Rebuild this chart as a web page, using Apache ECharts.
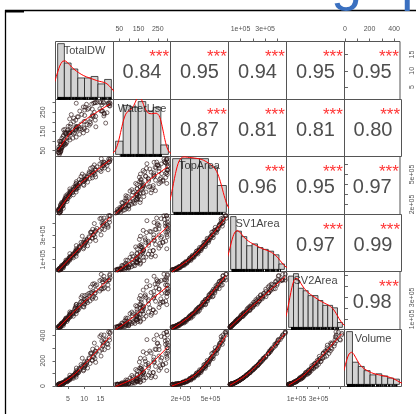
<!DOCTYPE html>
<html><head><meta charset="utf-8">
<script src="https://cdn.jsdelivr.net/npm/echarts@6/dist/echarts.min.js"></script>
<style>html,body{margin:0;padding:0;background:#fff}#c{width:416px;height:414px}</style>
</head><body><div id="c"></div>
<script>
const varNames = ['TotalDW','WaterUse','TopArea','SV1Area','SV2Area','Volume'];

const TotalDW = [2.30,2.03,2.51,2.22,2.80,2.23,2.44,2.86,2.39,2.91,3.60,2.86,2.72,3.31,3.17,3.54,3.12,3.51,3.83,3.67,
3.88,4.72,4.09,4.16,4.50,4.44,5.00,4.38,5.60,4.95,5.28,5.56,6.68,5.54,5.63,6.45,6.03,7.53,5.59,7.52,
6.75,7.72,7.24,8.21,7.86,7.42,9.91,7.56,9.76,7.60,11.04,8.46,9.73,10.08,10.32,11.79,9.04,12.50,10.14,13.53,
9.41,13.32,11.56,12.32,15.17,12.07,14.79,11.96,17.35,12.60,16.20,13.12,17.01,17.30,14.82,17.80,16.10,17.95,15.24,
2.41,2.15,2.79,2.33,2.20,2.74,2.64,2.82,2.75,3.46,3.01,3.14,3.69,3.89,3.93,4.08,4.76,4.20,4.63,5.08,
5.60,5.31,5.89,6.35,5.70,6.53,6.81,7.60,7.07,7.92,8.26,7.40,8.56,8.65,9.97,8.86,10.17,10.40,9.25,10.85,
10.71,12.43,10.89,12.88,12.80,11.46,13.58,13.37,15.41,13.41,15.91,15.66,13.88,16.60,15.90,17.7,16.05,17.5,17.9,15.43];

const WaterUse = [40.3,41.8,38.2,70.2,43.7,56.2,55.3,63.2,99.2,53.1,88.8,81.2,86.6,70.8,114.3,100.4,63.4,123.8,87.9,158.2,
78.2,121.1,160.4,84.4,137.6,140.8,143.5,84.2,151.4,157.2,141.9,142.1,138.2,215.0,105.9,158.5,237.7,120.7,143.4,164.5,
201.2,169.1,158.4,225.9,175.5,176.2,169.0,296.6,142.6,156.3,264.9,160.9,277.1,164.4,276.3,200.6,188.3,265.5,233.1,228.5,
159.9,299.0,182.2,292.0,256.2,215.2,302.5,191.2,297.4,236.0,240.9,249.3,247.4,290.0,267.7,300.8,244.0,294.7,299.8,
31.0,55.4,46.4,58.3,40.1,79.3,64.7,57.4,98.4,80.8,98.9,67.3,130.9,106.8,89.9,146.1,116.4,139.4,92.4,177.1,
141.5,116.4,188.5,146.8,175.8,115.4,219.2,172.3,142.1,226.3,175.5,208.8,135.2,256.0,202.2,164.1,261.0,202.6,238.5,154.4,
291.1,228.7,185.5,296.9,228.9,270.3,174.2,300.5,256.8,208.8,303.0,256.3,300.5,193.5,298.0,284.1,230.6,296.0,282.0,289.0];

const TopArea = [120000,137400,120800,141200,127600,156000,148400,172800,155200,170600,162000,179400,196800,182900,203300,189700,220800,213200,237600,220000,
235400,229500,246900,264300,250400,270800,257200,288300,280700,305100,290200,305600,297000,317100,334500,317900,338300,324700,355800,348200,
375300,357700,375800,367200,387300,404700,390800,411200,400300,428700,423800,448200,433300,448700,442800,460200,480300,466400,486800,475900,
504300,499400,526500,511600,529700,523800,543900,561300,547400,573200,565000,596100,591200,618300,606100,626900,623700,646500,658000,
114700,141100,135500,123900,151300,146700,166100,157900,189700,189500,180600,213400,211500,236300,228100,257200,257000,248100,280900,279000,
303800,292900,324700,321800,315600,348400,346500,368600,360400,389500,386600,380400,410500,408600,433400,422500,451600,451400,442500,472600,
470700,495500,484600,519100,516200,510000,540100,543600,563000,554800,586600,586400,577500,607600,605700,630500,622300,654100,653900,618000];

const SV1Area = [15500,15000,17500,17400,18000,21900,22600,23300,28400,27800,31600,34400,33900,42100,41500,42500,52000,52400,52700,62700,
59900,68100,72200,70600,83600,80900,80200,96100,95600,94200,112400,105800,115400,123000,118600,135700,129400,128300,149900,147300,
146400,169700,160800,173700,182800,175100,201000,190200,189700,217000,214400,208300,242900,224900,244800,252800,243000,276900,261700,258600,
294500,289100,282300,327100,304900,329800,341800,324200,367500,351200,348300,399000,389000,378100,439300,410500,444500,462300,443400,
14400,16800,17500,17200,21400,21300,24500,26200,33700,37700,38100,49900,50000,59400,60200,71900,76800,75100,94100,91900,
105500,101700,121200,123800,120900,148200,142200,157900,152800,176400,178700,171800,205300,195300,218900,206000,235500,239300,225700,268100,
253300,280500,263900,306400,305900,289800,342500,327400,354200,334900,382600,384300,359000,422700,396200,433600,408000,464600,464200,402300];

const SV2Area = [29100,32100,31000,35000,32800,36600,39600,37800,42300,47700,45100,48100,54800,55200,62700,59100,67500,72700,68800,76500,
85500,81800,86100,97000,96200,108100,100500,112700,120500,112600,126000,139400,129200,137200,153000,147500,164100,151600,168000,177900,
167600,183100,204200,187800,197200,219000,211900,234300,217700,236800,252300,233000,256100,279700,259200,267500,298100,286700,316700,292000,
316300,335200,311100,340100,373600,344400,356900,392900,376100,420000,388700,423500,446100,412200,451900,498000,459600,477900,508000,
31500,29200,34200,32700,36400,34200,39100,45200,45400,56700,56000,65600,62900,74900,84900,81800,100000,97100,111000,104900,
122200,133300,128800,152100,148000,166700,155200,175900,192900,181600,213000,204700,225200,208500,238600,255100,238000,280100,264700,289700,
266500,301700,322700,305700,353800,335900,366100,340700,377300,405600,378500,440900,413000,448500,409600,458600,491000,456800,510000,461100];

const Volume = [13.5,12.4,14.1,13.1,12.6,14.6,14.2,14.0,16.5,15.2,16.8,17.8,17.0,20.7,20.0,19.8,24.5,24.6,24.8,29.6,
27.9,32.1,34.3,33.1,40.7,39.4,38.9,47.9,48.0,47.2,58.6,54.8,60.8,65.7,62.8,75.0,71.7,70.4,85.5,84.9,
85.9,101.2,95.7,105.6,113.0,106.9,128.3,122.2,120.5,142.3,142.7,140.1,167.2,153.7,171.0,178.3,170.4,202.3,191.7,187.8,
220.3,218.8,216.8,256.2,237.3,262.2,275.2,257.7,303.9,292.6,288.1,340.4,336.1,330.3,392.3,364.5,404.3,425.7,405.5,
12.5,13.9,13.2,12.3,14.7,13.5,15.0,14.8,17.9,18.3,18.1,23.7,23.0,27.8,28.3,34.3,35.8,35.6,46.3,44.9,
53.6,52.9,65.4,64.6,65.2,83.6,79.9,92.2,92.0,107.6,106.6,105.4,130.5,123.7,144.7,137.9,161.6,161.0,155.2,190.7,
179.3,206.3,196.7,234.9,228.7,222.3,271.4,259.1,288.4,277.0,323.9,317.3,302.5,367.5,341.4,386.3,368.8,429.0,418.0,357.3];

// correlation labels (row by row)
const corRow1 = ['0.84','0.95','0.94','0.95','0.95'];
const corRow2 = ['0.87','0.81','0.81','0.80'];
const corRow3 = ['0.96','0.95','0.97'];
const corRow4 = ['0.97','0.99'];
const corRow5 = ['0.98'];
const corSignif = '***';

// axis ranges and ticks
const axisMin = [1.2, 20, 100000, 2000, 9000, -4];
const axisMax = [19, 316, 680000, 474000, 534000, 448];
const tickValues = [[5,10,15],[50,100,150,200,250,300],[200000,300000,400000,500000,600000],
  [100000,200000,300000,400000],[100000,200000,300000,400000,500000],[0,100,200,300,400]];
const tickLabels = [[5,10,15],[50,150,250],[200000,500000],[100000,300000],[100000,300000],[0,200,400]];

// histogram breaks
const breaksTotalDW = [2,4,6,8,10,12,14,16,18];
const breaksWaterUse = [0,50,100,150,200,250,300,350];
const breaksTopArea = [100000,200000,300000,400000,500000,600000,700000];
const breaksSV1Area = [0,50000,100000,150000,200000,250000,300000,350000,400000,450000,500000];
const breaksSV2Area = [0,50000,100000,150000,200000,250000,300000,350000,400000,450000,500000,550000];
const breaksVolume = [0,50,100,150,200,250,300,350,400,450];

const vars = [TotalDW, WaterUse, TopArea, SV1Area, SV2Area, Volume];
const histBreaks = [breaksTotalDW, breaksWaterUse, breaksTopArea, breaksSV1Area, breaksSV2Area, breaksVolume];
const corRows = [corRow1, corRow2, corRow3, corRow4, corRow5];

// layout
const colEdge = [0,1,2,3,4,5,6].map(k => Math.round(55 + k*57.7) + 0.5);
const rowEdge = [0,1,2,3,4,5,6].map(k => Math.round(41 + k*57.5) + 0.5);

function fmt(v){
  if (v === 0) return '0';
  if (Math.abs(v) >= 1e5){
    const e = Math.floor(Math.log10(Math.abs(v)) + 1e-9);
    const m = Math.round(v / Math.pow(10, e) * 100) / 100;
    return m + 'e+' + (e < 10 ? '0' : '') + e;
  }
  return String(v);
}
function median(a){ const s = a.slice().sort((p,q)=>p-q); const n = s.length; return n%2 ? s[(n-1)/2] : (s[n/2-1]+s[n/2])/2; }
function quantile(s, p){ const h = (s.length-1)*p; const lo = Math.floor(h); const hi = Math.ceil(h); return s[lo] + (h-lo)*(s[hi]-s[lo]); }

function lowess(x, y, f, iter){
  const n = x.length;
  const idx = [...Array(n).keys()].sort((a,b)=>x[a]-x[b]);
  const xs = idx.map(i=>x[i]), ys = idx.map(i=>y[i]);
  const r = Math.max(2, Math.ceil(f*n));
  let rw = new Array(n).fill(1);
  const fit = new Array(n);
  const range = xs[n-1]-xs[0];
  for (let it=0; it<=iter; it++){
    for (let i=0;i<n;i++){
      const d = xs.map(v=>Math.abs(v-xs[i]));
      const h = Math.max(d.slice().sort((a,b)=>a-b)[r-1], 1e-12*range);
      let sw=0,swx=0,swy=0,swxx=0,swxy=0;
      for (let j=0;j<n;j++){
        const q = d[j]/h;
        let w = q < 1 ? Math.pow(1-q*q*q,3) : 0;
        w *= rw[j];
        sw+=w; swx+=w*xs[j]; swy+=w*ys[j]; swxx+=w*xs[j]*xs[j]; swxy+=w*xs[j]*ys[j];
      }
      const mx = swx/sw, my = swy/sw;
      const vx = swxx/sw - mx*mx;
      const b = vx > 1e-10*range*range ? (swxy/sw - mx*my)/vx : 0;
      fit[i] = my + b*(xs[i]-mx);
    }
    if (it === iter) break;
    const res = ys.map((v,i)=>Math.abs(v-fit[i]));
    const s = 6*median(res);
    if (s <= 0) break;
    rw = res.map(e=>{ const u = e/s; return u < 1 ? Math.pow(1-u*u,2) : 0; });
  }
  return xs.map((v,i)=>[v, fit[i]]);
}

function density(x){
  const n = x.length;
  const mean = x.reduce((a,b)=>a+b,0)/n;
  const sd = Math.sqrt(x.reduce((a,b)=>a+(b-mean)*(b-mean),0)/(n-1));
  const s = x.slice().sort((a,b)=>a-b);
  const iqr = quantile(s,0.75)-quantile(s,0.25);
  const lo = Math.min(sd, iqr/1.34);
  const bw = 0.9*lo*Math.pow(n,-0.2);
  const from = s[0]-3*bw, to = s[n-1]+3*bw;
  const out = [];
  for (let k=0;k<300;k++){
    const t = from + (to-from)*k/299;
    let sum = 0;
    for (let i=0;i<n;i++){ const z=(t-x[i])/bw; sum += Math.exp(-0.5*z*z); }
    out.push([t, sum/(n*bw*Math.sqrt(2*Math.PI))]);
  }
  return out;
}

function histDens(x, br){
  const n = x.length;
  const counts = new Array(br.length-1).fill(0);
  x.forEach(v=>{
    for (let k=0;k<br.length-1;k++){
      if ((v > br[k] || (k===0 && v>=br[k])) && v <= br[k+1]) { counts[k]++; break; }
    }
  });
  return counts.map((c,k)=>c/(n*(br[k+1]-br[k])));
}

const grids = [], xAxes = [], yAxes = [], series = [];
const axisTxt = {fontSize:7, color:'#555', margin:9, formatter: fmt};

for (let r=0;r<6;r++){
  for (let c=0;c<6;c++){
    const idx = r*6+c;
    grids.push({left: colEdge[c], top: rowEdge[r], width: colEdge[c+1]-colEdge[c], height: rowEdge[r+1]-rowEdge[r],
      show:true, borderColor:'#555', borderWidth:1, backgroundColor:'transparent', containLabel:false});
    if (r === c){
      const br = histBreaks[c];
      const dens = histDens(vars[c], br);
      const ymax = Math.max(...dens);
      const span = br[br.length-1]-br[0];
      const xmin = br[0]-0.04*span, xmax = br[br.length-1]+0.04*span;
      const ymin = -0.04*ymax, ymx = 1.04*ymax;
      xAxes.push({type:'value', gridIndex: idx, min: xmin, max: xmax, show:false});
      yAxes.push({type:'value', gridIndex: idx, min: ymin, max: ymx, show:false});
      series.push({type:'custom', xAxisIndex: idx, yAxisIndex: idx, silent:true, clip:true,
        data: br.slice(0,-1).map((b,k)=>[b, br[k+1], dens[k]]),
        encode:{x:[0,1], y:2},
        renderItem:(params, api)=>{
          const p0 = api.coord([api.value(0), 0]);
          const p1 = api.coord([api.value(1), api.value(2)]);
          return {type:'rect', shape:{x:p0[0], y:p1[1], width:p1[0]-p0[0], height:p0[1]-p1[1]},
            style:{fill:'#d3d3d3', stroke:'#222', lineWidth:0.8}};
        }});
      series.push({type:'line', xAxisIndex: idx, yAxisIndex: idx, silent:true, showSymbol:false, clip:true,
        data: density(vars[c]), lineStyle:{color:'#ff0000', width:1}, z:3});
      series.push({type:'custom', xAxisIndex: idx, yAxisIndex: idx, silent:true,
        data: vars[c].map(v=>[v, ymin]), encode:{x:0, y:1},
        renderItem:(params, api)=>{
          const p = api.coord([api.value(0), api.value(1)]);
          return {type:'line', shape:{x1:p[0], y1:p[1], x2:p[0], y2:p[1]-2}, style:{stroke:'#000', lineWidth:1}};
        }, z:4});
      series.push({type:'scatter', xAxisIndex: idx, yAxisIndex: idx, silent:true, symbolSize:1,
        itemStyle:{color:'transparent'},
        data:[[(xmin+xmax)/2, ymin + 0.833*(ymx-ymin)]],
        label:{show:true, position:'inside', formatter: varNames[c], fontSize:11, color:'#111'}, z:5});
    } else {
      const topShown = (r===0 && c%2===1);
      const botShown = (r===5 && c%2===0);
      const leftShown = (c===0 && r%2===1);
      const rightShown = (c===5 && r%2===0);
      const xs = topShown || botShown;
      const ys = leftShown || rightShown;
      xAxes.push({type:'value', gridIndex: idx, min: axisMin[c], max: axisMax[c], position: topShown ? 'top' : 'bottom',
        show: xs, axisLine:{show:false}, splitLine:{show:false},
        axisTick:{show: xs, customValues: tickValues[c], length:3, lineStyle:{color:'#666'}},
        axisLabel: Object.assign({show: xs, customValues: tickLabels[c]}, axisTxt)});
      yAxes.push({type:'value', gridIndex: idx, min: axisMin[r], max: axisMax[r], position: leftShown ? 'left' : 'right',
        show: ys, axisLine:{show:false}, splitLine:{show:false},
        axisTick:{show: ys, customValues: tickValues[r], length:3, lineStyle:{color:'#666'}},
        axisLabel: Object.assign({show: ys, customValues: tickLabels[r], rotate:90}, axisTxt)});
      if (r > c){
        const X = vars[c], Y = vars[r];
        series.push({type:'scatter', xAxisIndex: idx, yAxisIndex: idx, silent:true, symbol:'circle', symbolSize:4,
          itemStyle:{color:'transparent', borderColor:'#2a1414', borderWidth:0.8},
          data: X.map((v,i)=>[v, Y[i]])});
        series.push({type:'line', xAxisIndex: idx, yAxisIndex: idx, silent:true, showSymbol:false, clip:true,
          data: lowess(X, Y, 2/3, 3), lineStyle:{color:'#ff0000', width:1}, z:3});
      } else {
        const xmn = axisMin[c], xmx = axisMax[c], ymn = axisMin[r], ymx = axisMax[r];
        series.push({type:'scatter', xAxisIndex: idx, yAxisIndex: idx, silent:true, symbolSize:1,
          itemStyle:{color:'transparent'},
          data:[[xmn+0.5*(xmx-xmn), ymn+0.5*(ymx-ymn)]],
          label:{show:true, position:'inside', formatter: corRows[r][c-r-1], fontSize:20, color:'#222', offset:[0,2]}});
        series.push({type:'scatter', xAxisIndex: idx, yAxisIndex: idx, silent:true, symbolSize:1,
          itemStyle:{color:'transparent'},
          data:[[xmn+0.8*(xmx-xmn), ymn+0.8*(ymx-ymn)]],
          label:{show:true, position:'inside', formatter: corSignif, fontSize:17, color:'#ff0000', offset:[0,4]}});
      }
    }
  }
}

const graphic = [
  {type:'line', shape:{x1:5, y1:10.5, x2:416, y2:10.5}, style:{stroke:'#000', lineWidth:1.3}, z:10},
  {type:'line', shape:{x1:5.5, y1:10, x2:5.5, y2:414}, style:{stroke:'#000', lineWidth:1.3}, z:10},
  {type:'rect', shape:{x:5, y:10, width:19, height:2.5}, style:{fill:'#000'}, z:10},
  {type:'text', x:331, y:12, style:{text:'g', font:'56px "Liberation Sans"', fill:'#3a70c0', verticalAlign:'bottom'}, z:10},
  {type:'text', x:401, y:12, style:{text:'p', font:'56px "Liberation Sans"', fill:'#3a70c0', verticalAlign:'bottom'}, z:10}
];

const chart = echarts.init(document.getElementById('c'), null, {renderer:'canvas'});
chart.setOption({animation:false, backgroundColor:'#fff',
  textStyle:{fontFamily:'"Liberation Sans", Arial, sans-serif'},
  grid: grids, xAxis: xAxes, yAxis: yAxes, series: series, graphic: graphic});
</script></body></html>
